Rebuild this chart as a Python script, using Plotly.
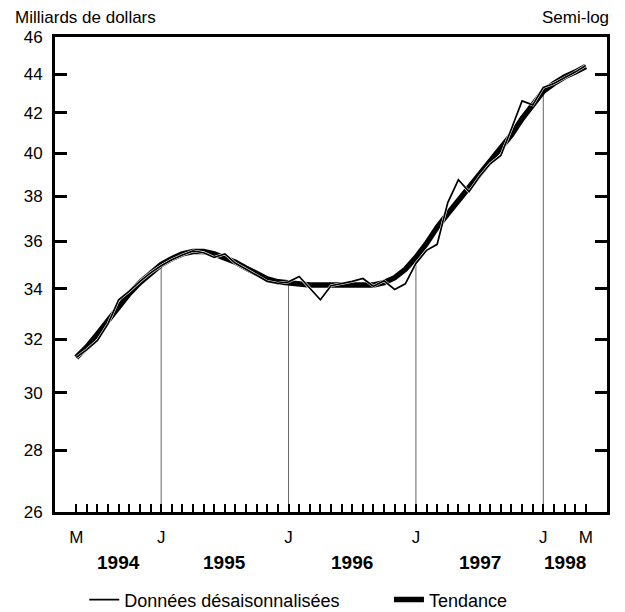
import plotly.graph_objects as go

# Months May 1994 .. May 1998 (index 0..48)
month_letters = ["M", "J", "J", "A", "S", "O", "N", "D",
                 "J", "F", "M", "A", "M", "J", "J", "A", "S", "O", "N", "D",
                 "J", "F", "M", "A", "M", "J", "J", "A", "S", "O", "N", "D",
                 "J", "F", "M", "A", "M", "J", "J", "A", "S", "O", "N", "D",
                 "J", "F", "M", "A", "M"]
labelled_months = [0, 8, 20, 32, 44, 48]
january_idx = [8, 20, 32, 44]

years = ["1994", "1995", "1996", "1997", "1998"]
year_centers = [4, 14, 26, 38, 46]

raw = [31.3, 31.6, 31.95, 32.6, 33.55, 33.9, 34.3, 34.65,
       34.95, 35.2, 35.4, 35.58, 35.5, 35.3, 35.45, 35.05, 34.8, 34.55, 34.3, 34.22,
       34.28, 34.5, 34.0, 33.55, 34.12, 34.2, 34.3, 34.42, 34.1, 34.32, 33.97, 34.2,
       35.05, 35.6, 35.86, 37.7, 38.75, 38.2, 38.9, 39.5, 39.9, 41.2, 42.6, 42.4,
       43.3, 43.5, 43.8, 44.1, 44.45]

trend = [31.3, 31.7, 32.2, 32.75, 33.3, 33.8, 34.25, 34.65,
         35.0, 35.25, 35.45, 35.55, 35.55, 35.45, 35.3, 35.1, 34.85, 34.6, 34.4, 34.28,
         34.22, 34.18, 34.15, 34.15, 34.15, 34.15, 34.15, 34.15, 34.15, 34.25, 34.45, 34.8,
         35.3, 35.9, 36.6, 37.2, 37.8, 38.4, 39.0, 39.6, 40.2, 40.9, 41.7, 42.4,
         43.1, 43.5, 43.85, 44.1, 44.4]

y_ticks = [26, 28, 30, 32, 34, 36, 38, 40, 42, 44, 46]

x = list(range(len(raw)))
ticktext = [month_letters[i] if i in labelled_months else "" for i in x]

FONT = "Liberation Sans, Arial, sans-serif"

fig = go.Figure()

# vertical guide lines at January, from the base up to the trend
for j in january_idx:
    fig.add_trace(go.Scatter(x=[j, j], y=[y_ticks[0], trend[j]], mode="lines",
                             line=dict(color="#666666", width=1),
                             showlegend=False, hoverinfo="skip"))

fig.add_trace(go.Scatter(x=x, y=trend, mode="lines", name="Tendance",
                         line=dict(color="black", width=5.5), legend="legend2"))
fig.add_trace(go.Scatter(x=x, y=raw, mode="lines", showlegend=False,
                         line=dict(color="white", width=2.8), hoverinfo="skip"))
fig.add_trace(go.Scatter(x=x, y=raw, mode="lines", name="Données désaisonnalisées",
                         line=dict(color="black", width=1.7), legend="legend"))

annotations = [
    dict(text="Milliards de dollars", xref="paper", yref="paper",
         x=-0.076, y=1.04, xanchor="left", yanchor="middle", showarrow=False,
         font=dict(size=17, color="black", family=FONT)),
    dict(text="Semi-log", xref="paper", yref="paper",
         x=1.008, y=1.04, xanchor="right", yanchor="middle", showarrow=False,
         font=dict(size=17, color="black", family=FONT)),
]
for yr, c in zip(years, year_centers):
    annotations.append(dict(text="<b>" + yr + "</b>", xref="x", yref="paper",
                            x=c, y=-0.107, xanchor="center", yanchor="middle",
                            showarrow=False,
                            font=dict(size=19, color="black", family=FONT)))

leg_common = dict(orientation="h", xanchor="left", y=-0.185, yanchor="middle",
                  font=dict(size=18, color="black", family=FONT),
                  bgcolor="rgba(0,0,0,0)")

fig.update_layout(
    width=617, height=604,
    margin=dict(l=47, r=18, t=29, b=100, autoexpand=False),
    paper_bgcolor="white", plot_bgcolor="white",
    font=dict(family=FONT, size=17, color="black"),
    showlegend=True,
    legend=dict(x=0.053, **leg_common),
    legend2=dict(x=0.605, **leg_common),
    annotations=annotations,
    xaxis=dict(range=[-2, 50], tickmode="array", tickvals=x, ticktext=ticktext,
               ticks="inside", ticklen=8, tickwidth=2, tickcolor="black",
               showline=True, linewidth=3, linecolor="black", mirror=True,
               showgrid=False, zeroline=False, ticklabelstandoff=8,
               tickfont=dict(size=17, color="black", family=FONT)),
    yaxis=dict(type="log", range=[1.4149733, 1.6627578], tickmode="array",
               tickvals=y_ticks, ticktext=[str(v) for v in y_ticks],
               ticks="inside", ticklen=12, tickwidth=3, tickcolor="black",
               showline=True, linewidth=3, linecolor="black", mirror="ticks",
               showgrid=False, zeroline=False, ticklabelstandoff=6,
               tickfont=dict(size=17, color="black", family=FONT)),
)

fig.write_html("out.html")
